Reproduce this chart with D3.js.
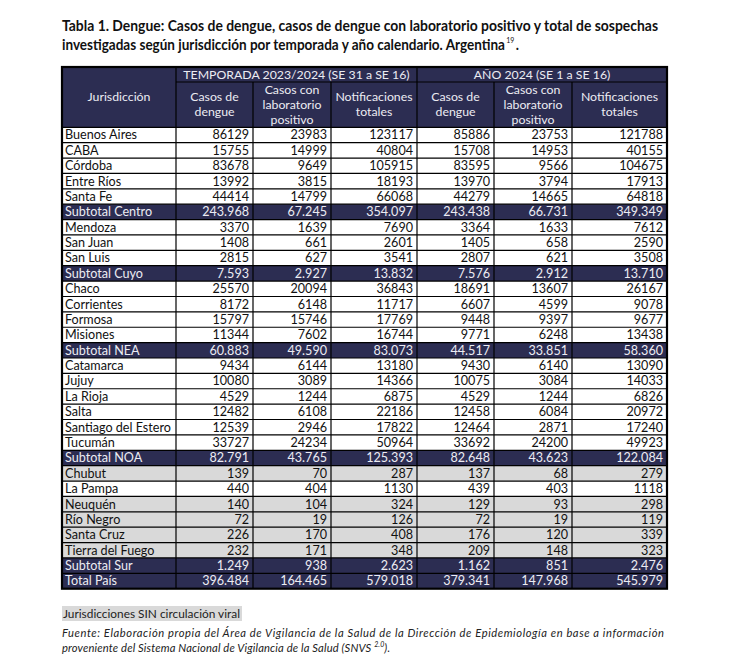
<!DOCTYPE html>
<html><head><meta charset="utf-8">
<script src="https://cdn.jsdelivr.net/npm/d3@7"></script>
<style>
html,body{margin:0;padding:0;background:#fff;}
svg{display:block;}
</style></head>
<body>
<svg id="c" width="731" height="671"></svg>
<script>
const rowNames = ["Buenos Aires","CABA","Córdoba","Entre Ríos","Santa Fe","Subtotal Centro",
 "Mendoza","San Juan","San Luis","Subtotal Cuyo",
 "Chaco","Corrientes","Formosa","Misiones","Subtotal NEA",
 "Catamarca","Jujuy","La Rioja","Salta","Santiago del Estero","Tucumán","Subtotal NOA",
 "Chubut","La Pampa","Neuquén","Río Negro","Santa Cruz","Tierra del Fuego","Subtotal Sur","Total País"];
// row kind: p = province, s = subtotal/total, g = sin circulación viral
const rowKinds = ["p","p","p","p","p","s","p","p","p","s","p","p","p","p","s","p","p","p","p","p","p","s","g","p","g","g","g","g","s","s"];
const tempCasos = [86129,15755,83678,13992,44414,243968,3370,1408,2815,7593,25570,8172,15797,11344,60883,9434,10080,4529,12482,12539,33727,82791,139,440,140,72,226,232,1249,396484];
const tempLab   = [23983,14999,9649,3815,14799,67245,1639,661,627,2927,20094,6148,15746,7602,49590,6144,3089,1244,6108,2946,24234,43765,70,404,104,19,170,171,938,164465];
const tempNotif = [123117,40804,105915,18193,66068,354097,7690,2601,3541,13832,36843,11717,17769,16744,83073,13180,14366,6875,22186,17822,50964,125393,287,1130,324,126,408,348,2623,579018];
const anioCasos = [85886,15708,83595,13970,44279,243438,3364,1405,2807,7576,18691,6607,9448,9771,44517,9430,10075,4529,12458,12464,33692,82648,137,439,129,72,176,209,1162,379341];
const anioLab   = [23753,14953,9566,3794,14665,66731,1633,658,621,2912,13607,4599,9397,6248,33851,6140,3084,1244,6084,2871,24200,43623,68,403,93,19,120,148,851,147968];
const anioNotif = [121788,40155,104675,17913,64818,349349,7612,2590,3508,13710,26167,9078,9677,13438,58360,13090,14033,6826,20972,17240,49923,122084,279,1118,298,119,339,323,2476,545979];
const groupTitles = ["TEMPORADA 2023/2024 (SE 31 a SE 16)","AÑO 2024 (SE 1 a SE 16)"];
const colHeaders = [["Casos de","dengue"],["Casos con","laboratorio","positivo"],["Notificaciones","totales"]];
const firstHeader = "Jurisdicción";
const titleLines = ["Tabla 1. Dengue: Casos de dengue, casos de dengue con laboratorio positivo y total de sospechas",
 "investigadas según jurisdicción por temporada y año calendario. Argentina"];
const legendText = "Jurisdicciones SIN circulación viral";
const sourceLines = ["Fuente: Elaboración propia del Área de Vigilancia de la Salud de la Dirección de Epidemiología en base a información",
 "proveniente del Sistema Nacional de Vigilancia de la Salud (SNVS "];

const series = [tempCasos,tempLab,tempNotif,anioCasos,anioLab,anioNotif];

const NAVY = "#2c2d52", GRAY = "#d9d9d9", HEAD_TXT = "#ececf2";
const FONT = "Lato, 'Open Sans', sans-serif";
const svg = d3.select("#c");

// layout
const colEdges = [62,176,253,331,417,494,572,667];
const x = d3.scaleOrdinal().domain(d3.range(8)).range(colEdges);
const tableTop = 67, h1Bottom = 82, headBottom = 127.3, tableBottom = 588.7;
const y = d3.scaleBand().domain(d3.range(rowNames.length)).range([headBottom, tableBottom]);

const locale = d3.formatLocale({decimal:",",thousands:".",grouping:[3],currency:["$",""]});
const fmtSub = locale.format(",d");
const fmtRaw = d3.format("d");

// title
const title = svg.append("g").attr("font-family",FONT).attr("font-weight","bold").attr("font-size",14.6).attr("fill","#111");
title.append("text").attr("x",62).attr("y",31).attr("textLength",596).attr("lengthAdjust","spacingAndGlyphs").text(titleLines[0]);
const t2 = title.append("text").attr("x",62).attr("y",50).attr("textLength",457).attr("lengthAdjust","spacingAndGlyphs");
t2.append("tspan").text(titleLines[1]);
t2.append("tspan").attr("font-size",7.5).attr("font-weight","normal").attr("dx",1.5).attr("dy",-7).text("19");
t2.append("tspan").attr("dx",1.5).attr("dy",7).text(".");

// header background
svg.append("rect").attr("x",x(0)).attr("y",tableTop).attr("width",x(7)-x(0)).attr("height",headBottom-tableTop).attr("fill",NAVY);

// row backgrounds
const rows = svg.append("g").selectAll("g").data(rowNames).join("g");
rows.append("rect")
  .attr("x",x(0)).attr("y",(d,i)=>y(i)).attr("width",x(7)-x(0)).attr("height",y.bandwidth())
  .attr("fill",(d,i)=>rowKinds[i]==="s"?NAVY:rowKinds[i]==="g"?GRAY:"#fff");

// grid lines
const grid = svg.append("g").attr("stroke","#000").attr("stroke-width",1.2);
grid.selectAll("line.h").data(d3.range(rowNames.length)).join("line")
  .attr("x1",x(0)).attr("x2",x(7)).attr("y1",i=>y(i)).attr("y2",i=>y(i));
grid.append("line").attr("x1",x(1)).attr("x2",x(7)).attr("y1",h1Bottom).attr("y2",h1Bottom);
grid.selectAll("line.v").data(d3.range(1,7)).join("line")
  .attr("x1",i=>x(i)).attr("x2",i=>x(i))
  .attr("y1",i=>(i===4||i===1)?tableTop:h1Bottom).attr("y2",tableBottom);
svg.append("rect").attr("x",x(0)).attr("y",tableTop).attr("width",x(7)-x(0)).attr("height",tableBottom-tableTop)
  .attr("fill","none").attr("stroke","#000").attr("stroke-width",2.2);

// header texts
const hd = svg.append("g").attr("font-family",FONT).attr("font-size",12.3).attr("fill",HEAD_TXT).attr("text-anchor","middle");
hd.append("text").attr("x",(x(0)+x(1))/2).attr("y",(tableTop+headBottom)/2+4).text(firstHeader);
groupTitles.forEach((g,k)=>{
  hd.append("text").attr("x",(x(1+3*k)+x(4+3*k))/2).attr("y",h1Bottom-3.5).text(g);
});
d3.range(6).forEach(c=>{
  const lines = colHeaders[c%3];
  const cx = (x(c+1)+x(c+2))/2;
  const mid = (h1Bottom+headBottom)/2;
  const lh = 15;
  const y0 = mid - (lines.length-1)*lh/2 + 4;
  lines.forEach((l,j)=>hd.append("text").attr("x",cx).attr("y",y0+j*lh).text(l));
});

// body texts
const body = svg.append("g").attr("font-family",FONT).attr("font-size",12.6);
body.selectAll("text.name").data(rowNames).join("text")
  .attr("x",x(0)+3).attr("y",(d,i)=>y(i)+y.bandwidth()/2+4.4)
  .attr("fill",(d,i)=>rowKinds[i]==="s"?HEAD_TXT:"#111").text(d=>d);
series.forEach((vals,c)=>{
  body.selectAll(null).data(vals).join("text")
    .attr("x",x(c+2)-4).attr("y",(d,i)=>y(i)+y.bandwidth()/2+4.4).attr("text-anchor","end")
    .attr("fill",(d,i)=>rowKinds[i]==="s"?HEAD_TXT:"#111")
    .text((d,i)=>rowKinds[i]==="s"?fmtSub(d):fmtRaw(d));
});

// legend
svg.append("rect").attr("x",62).attr("y",606).attr("width",180).attr("height",15).attr("fill",GRAY);
svg.append("text").attr("x",63).attr("y",618).attr("font-family",FONT).attr("font-size",11.5).attr("fill","#222")
  .attr("textLength",177).attr("lengthAdjust","spacingAndGlyphs").text(legendText);

// source
const src = svg.append("g").attr("font-family",FONT).attr("font-style","italic").attr("font-size",11.2).attr("fill","#222");
src.append("text").attr("x",62).attr("y",637).attr("textLength",602).attr("lengthAdjust","spacing").text(sourceLines[0]);
const s2 = src.append("text").attr("x",62).attr("y",652).attr("textLength",328).attr("lengthAdjust","spacing");
s2.append("tspan").text(sourceLines[1]);
s2.append("tspan").attr("font-size",7).attr("dy",-5).text("2.0");
s2.append("tspan").attr("dy",5).text(").");
</script>
</body></html>
